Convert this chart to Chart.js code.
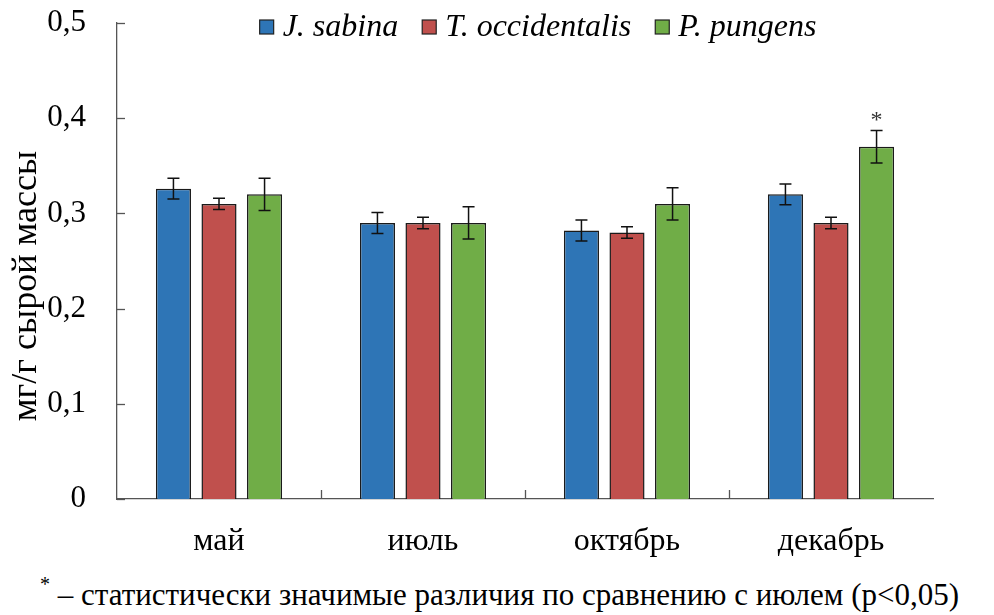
<!DOCTYPE html>
<html>
<head>
<meta charset="utf-8">
<script src="https://cdn.jsdelivr.net/npm/chart.js@4"></script>
<style>
    body { margin: 0; background: #fff; }
    #wrap { position: relative; width: 994px; height: 615px; }
    #foot {
        position: absolute; left: 40px; top: 579px;
        font-family: "Liberation Serif", serif; font-size: 31px; line-height: 31px; color: #000;
        white-space: nowrap;
    }
    #foot .star { font-size: 20px; position: relative; top: -14px; }
</style>
</head>
<body>
<div id="wrap">
    <canvas id="myChart" width="994" height="570"></canvas>
    <div id="foot"><span class="star">*</span> – статистически значимые различия по сравнению с июлем (p&lt;0,05)</div>
</div>
<script>
const months = ["май", "июль", "октябрь", "декабрь"];
const species = ["J. sabina", "T. occidentalis", "P. pungens"];
const colors = ["#2E75B6", "#C0504D", "#70AD47"];

const sabina = [0.326, 0.29, 0.282, 0.32];
const occidentalis = [0.31, 0.29, 0.28, 0.29];
const pungens = [0.32, 0.29, 0.31, 0.37];

const sabinaErr = [0.011, 0.011, 0.011, 0.011];
const occidentalisErr = [0.006, 0.006, 0.006, 0.006];
const pungensErr = [0.017, 0.017, 0.017, 0.017];

// звездочка - значимое отличие от июля
const marks = [[], [], [3]];

const yTicks = [0, 0.1, 0.2, 0.3, 0.4, 0.5];
const yTitle = "мг/г сырой массы";

const serif = "'Liberation Serif', 'Times New Roman', serif";

document.addEventListener("DOMContentLoaded", function () {
    const values = [sabina, occidentalis, pungens];
    const errors = [sabinaErr, occidentalisErr, pungensErr];

    // усы погрешности, звездочки, внутренние засечки, подпись оси и легенда
    const extras = {
        id: "extras",
        afterDatasetsDraw(chart) {
            const ctx = chart.ctx;
            const y = chart.scales.y;
            const area = chart.chartArea;
            ctx.save();

            // засечки по оси y внутрь
            ctx.strokeStyle = "#555";
            ctx.lineWidth = 1.3;
            yTicks.forEach(t => {
                let py = Math.round(y.getPixelForValue(t)) + 0.5;
                ctx.beginPath();
                ctx.moveTo(area.left, py);
                ctx.lineTo(area.left + 8, py);
                ctx.stroke();
            });
            // засечки по оси x между месяцами
            for (let i = 1; i < months.length; i++) {
                let px = Math.round(area.left + i * (area.right - area.left) / months.length) + 0.5;
                ctx.beginPath();
                ctx.moveTo(px, area.bottom);
                ctx.lineTo(px, area.bottom - 9);
                ctx.stroke();
            }

            ctx.strokeStyle = "#111";
            ctx.lineWidth = 1.5;
            values.forEach((vals, d) => {
                let meta = chart.getDatasetMeta(d);
                vals.forEach((v, i) => {
                    let bx = meta.data[i].x;
                    let top = y.getPixelForValue(v + errors[d][i]);
                    let bottom = y.getPixelForValue(v - errors[d][i]);
                    ctx.beginPath();
                    ctx.moveTo(bx, top);
                    ctx.lineTo(bx, bottom);
                    ctx.moveTo(bx - 6, top);
                    ctx.lineTo(bx + 6, top);
                    ctx.moveTo(bx - 6, bottom);
                    ctx.lineTo(bx + 6, bottom);
                    ctx.stroke();
                });
                marks[d].forEach(i => {
                    let bx = meta.data[i].x;
                    let top = y.getPixelForValue(vals[i] + errors[d][i]);
                    ctx.fillStyle = "#333";
                    ctx.font = "24px " + serif;
                    ctx.textAlign = "center";
                    ctx.textBaseline = "bottom";
                    ctx.fillText("*", bx, top + 2);
                });
            });

            // подпись оси y
            ctx.fillStyle = "#000";
            ctx.font = "36px " + serif;
            ctx.textAlign = "center";
            ctx.textBaseline = "middle";
            ctx.translate(27, 286);
            ctx.rotate(-Math.PI / 2);
            ctx.fillText(yTitle, 0, 0);
            ctx.setTransform(1, 0, 0, 1, 0, 0);

            // легенда
            ctx.font = "italic 32px " + serif;
            ctx.textBaseline = "middle";
            ctx.textAlign = "left";
            let widths = species.map(s => ctx.measureText(s).width);
            let gap = 24, box = 14, boxGap = 9;
            let total = widths.reduce((a, b) => a + b, 0) + species.length * (box + boxGap) + gap * (species.length - 1);
            let lx = 538 - total / 2;
            let ly = 27;
            species.forEach((s, d) => {
                ctx.fillStyle = colors[d];
                ctx.fillRect(lx, ly - box / 2, box, box);
                ctx.strokeStyle = "#222";
                ctx.lineWidth = 1.2;
                ctx.strokeRect(lx, ly - box / 2, box, box);
                ctx.fillStyle = "#000";
                ctx.fillText(s, lx + box + boxGap, ly + 1);
                lx += box + boxGap + widths[d] + gap;
            });
            ctx.restore();
        }
    };

    new Chart(document.getElementById("myChart"), {
        type: "bar",
        data: {
            labels: months,
            datasets: species.map((s, d) => ({
                label: s,
                data: values[d],
                backgroundColor: colors[d],
                borderColor: "#1a1a1a",
                borderWidth: 1.5,
                categoryPercentage: 0.67,
                barPercentage: 0.77
            }))
        },
        options: {
            responsive: false,
            animation: false,
            layout: { padding: { top: 23, right: 61, left: 0, bottom: 0 } },
            plugins: {
                legend: { display: false },
                tooltip: { enabled: false }
            },
            scales: {
                x: {
                    grid: { display: false, drawTicks: false },
                    border: { color: "#555", width: 1.3 },
                    ticks: {
                        color: "#000",
                        font: { family: serif, size: 32 },
                        padding: 23
                    },
                    afterFit: function (scale) {
                        scale.height = 71;
                        scale.paddingLeft = 0;
                        scale.paddingRight = 0;
                    }
                },
                y: {
                    min: 0,
                    max: 0.5,
                    grid: { display: false, drawTicks: false },
                    border: { color: "#555", width: 1.3 },
                    afterBuildTicks: function (scale) {
                        scale.ticks = yTicks.map(v => ({ value: v }));
                    },
                    ticks: {
                        color: "#000",
                        font: { family: serif, size: 31 },
                        padding: 31,
                        callback: v => v === 0 ? "0" : v.toFixed(1).replace(".", ",")
                    },
                    afterFit: function (scale) {
                        scale.width = 117;
                        scale.paddingTop = 0;
                        scale.paddingBottom = 0;
                    }
                }
            }
        },
        plugins: [extras]
    });
});
</script>
</body>
</html>
